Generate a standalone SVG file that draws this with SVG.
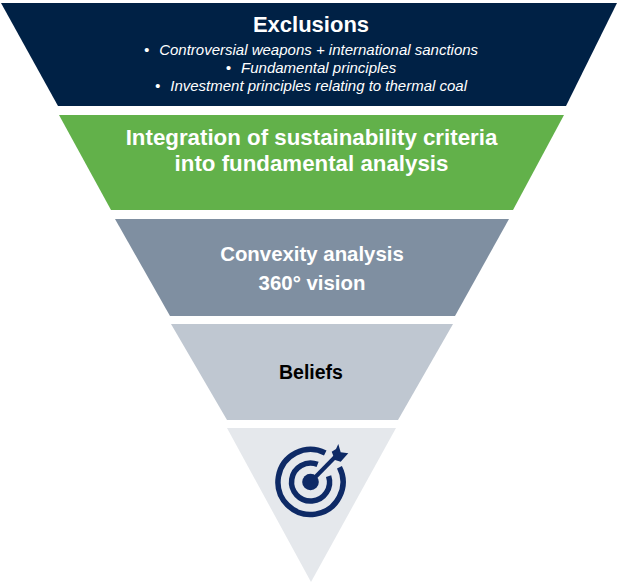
<svg xmlns="http://www.w3.org/2000/svg" width="617" height="583" viewBox="0 0 617 583">
<style>
text{font-family:"Liberation Sans",Arial,sans-serif;text-anchor:middle}
.h{font-weight:700;fill:#fff}
.i{font-style:italic;font-size:15px;fill:#fff}
.r{fill:none;stroke:#0e2a66;stroke-width:5.5}
</style>
<rect width="617" height="583" fill="#fff"/>
<g id="layer-exclusions">
<polygon points="1,3 617,3 566,106 58,106" fill="#002145"/>
<text class="h" x="311" y="32" font-size="22">Exclusions</text>
<text class="i" x="311" y="55">•<tspan dx="10">Controversial weapons + international sanctions</tspan></text>
<text class="i" x="311" y="73">•<tspan dx="10">Fundamental principles</tspan></text>
<text class="i" x="311" y="91">•<tspan dx="10">Investment principles relating to thermal coal</tspan></text>
</g>
<g id="layer-integration">
<polygon points="59,115 564,115 513,210 111,210" fill="#62b14a"/>
<text class="h" x="311.500" y="145" font-size="22.300">Integration of sustainability criteria</text>
<text class="h" x="311.500" y="171" font-size="22.300">into fundamental analysis</text>
</g>
<g id="layer-convexity">
<polygon points="115,219 509,219 455,316 170,316" fill="#7f8fa1"/>
<text class="h" x="312" y="261" font-size="20.400">Convexity analysis</text>
<text class="h" x="312" y="290" font-size="20.400">360° vision</text>
</g>
<g id="layer-beliefs">
<polygon points="171,324 453,324 398,420 227,420" fill="#bfc7d1"/>
<text x="311" y="379" font-size="19.500" font-weight="700" fill="#000">Beliefs</text>
</g>
<g id="layer-target">
<polygon points="227,428 396,428 311,582" fill="#e5e8ec"/>
<path class="r" d="M325.250 453.040A32.500 32.500 0 1 0 339.460 467.250"/>
<path class="r" d="M317.600 464.400A19 19 0 1 0 328.600 476.100"/>
<circle cx="310.500" cy="482" r="8.300" fill="#0e2a66"/>
<path d="M310.500 482L338 454" stroke="#0e2a66" stroke-width="4" fill="none"/>
<polygon points="331.700,451.700 336,449 338.300,444 340.700,452.300 348.300,453.300 344,458 340.700,461.700 335,460" fill="#0e2a66"/>
</g>
</svg>
